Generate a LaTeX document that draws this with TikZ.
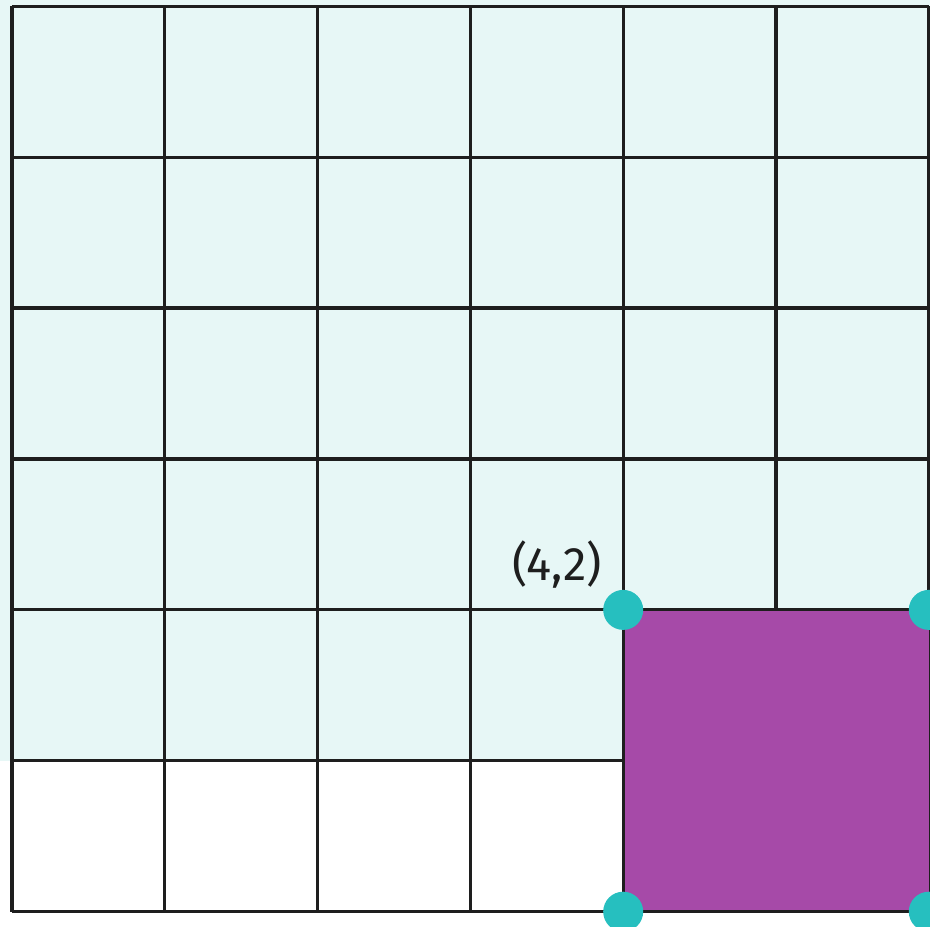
\documentclass[tikz,border=0pt]{standalone}
\usepackage{fontspec}
\setmainfont{Fira Sans}
\usetikzlibrary{positioning}
\definecolor{cellbg}{HTML}{E7F7F6}
\definecolor{squarefill}{HTML}{A64AA8}
\definecolor{vertexcol}{HTML}{26BFBF}
\definecolor{gridline}{HTML}{1E1E1E}
\tikzset{
  vertex/.style={circle, fill=vertexcol, minimum size=40pt, inner sep=0pt},
  gridpen/.style={line width=3.2pt, draw=gridline}
}
\begin{document}
\begin{tikzpicture}[x=152.8pt, y=150.9pt]
\useasboundingbox (-0.0785,-0.0948) rectangle (6.0079,6.0418);
\fill[cellbg] (-0.0785,1) rectangle (6.0079,6.0418);
\draw[gridpen, xstep=1, ystep=1] (0,0) grid (6,6);
\fill[squarefill] (4,0) rectangle (6,2);
\draw[gridpen] (4,0)--(4,2)--(6,2);
\draw[gridpen] (4,0)--(6,0);
\node[vertex] (v42) at (4,2) {};
\node[vertex] (v62) at (6,2) {};
\node[vertex] (v40) at (4,0) {};
\node[vertex] (v60) at (6,0) {};
\node[inner sep=0pt, above left=7pt and 7pt of v42, text=gridline] (lab) {\fontsize{47}{55}\selectfont (4,2)};
\end{tikzpicture}
\end{document}
